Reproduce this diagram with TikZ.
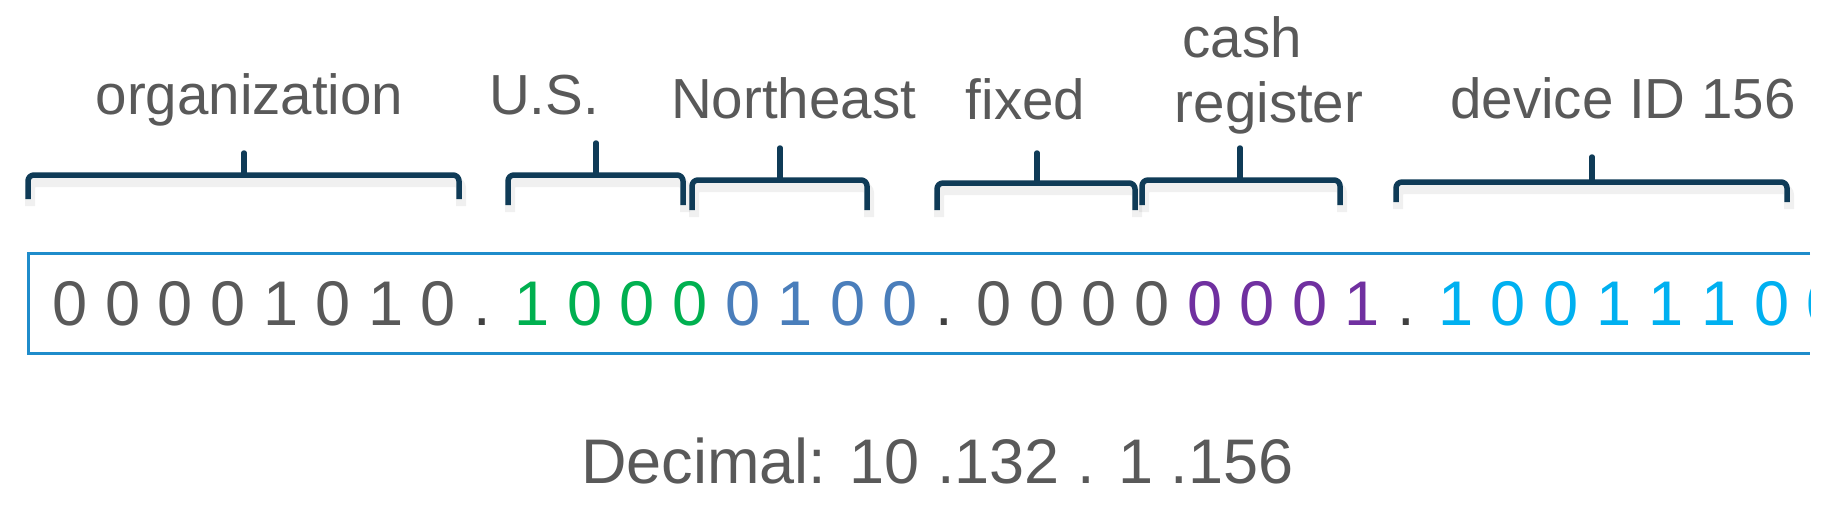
\documentclass[tikz,border=0pt]{standalone}
\usepackage{fontspec}
\setmainfont{Liberation Sans}
\definecolor{txtgray}{HTML}{595959}
\definecolor{dotgray}{HTML}{404040}
\definecolor{bracecol}{HTML}{0F3B57}
\definecolor{boxblue}{HTML}{1F8CCB}
\definecolor{grn}{HTML}{00B050}
\definecolor{sblue}{HTML}{4A7EBB}
\definecolor{purp}{HTML}{7030A0}
\definecolor{cyn}{HTML}{00B0F0}
\tikzset{
  bracestyle/.style={draw=bracecol, line width=5.5pt, rounded corners=6pt, line join=round},
  braceshadow/.style={draw=black, opacity=0.06, line width=10pt, rounded corners=6pt, shift={(2,7)}},
  tipstyle/.style={draw=bracecol, line width=5.5pt, line cap=round},
  lbl/.style={text=txtgray, font=\fontsize{56.5}{65}\selectfont, inner sep=0pt, anchor=base},
  bitrow/.style={text=txtgray, font=\fontsize{63.1}{76}\selectfont, inner sep=0pt, anchor=base west},
  boxline/.style={draw=boxblue, line width=3pt}
}
% #1 left x, #2 right x, #3 bar y, #4 end y, #5 tip x, #6 tip top y
\newcommand\mybrace[6]{%
  \draw[braceshadow] (#1,#4) -- (#1,#3) -- (#2,#3) -- (#2,#4);
  \draw[bracestyle] (#1,#4) -- (#1,#3) -- (#2,#3) -- (#2,#4);
  \draw[tipstyle] (#5,#3) -- (#5,#6);
}
\begin{document}
\begin{tikzpicture}[x=1pt,y=-1pt]
\useasboundingbox[fill=white] (0,0) rectangle (1822,524);

% labels
\node[lbl] (org) at (249.5,115) {organization};
\node[lbl] (us) at (544,115) {U.S.};
\node[lbl] (ne) at (793.5,118) {Northeast};
\node[lbl] (fixed) at (1025.5,120) {fixed};
\node[lbl] (cash) at (1242,58) {cash};
\node[lbl] (register) at (1269,123) {register};
\node[lbl] (device) at (1623,118) {device ID 156};

% braces
\mybrace{28}{459}{175}{199}{244}{153}
\mybrace{508}{683}{175}{205}{596}{143}
\mybrace{692}{867}{180}{210}{780}{148}
\mybrace{937}{1135}{183}{210}{1037}{153}
\mybrace{1142}{1340}{180}{205}{1240}{148}
\mybrace{1396}{1787}{182}{202}{1592}{157}

% binary box (open at the cropped right side)
\coordinate (boxTR) at (1810,253);
\coordinate (boxTL) at (28,253);
\coordinate (boxBL) at (28,353);
\coordinate (boxBR) at (1810,353);
\draw[boxline] (boxTR) -- (boxTL) -- (boxBL) -- (boxBR);

\begin{scope}
\clip (0,0) rectangle (1810,524);
\node[bitrow] (bits) at (52.5,325) {%
{\color{txtgray}0 0 0 0 1 0 1 0} {\color{dotgray}.} %
{\color{grn}1 0 0 0} {\color{sblue}0 1 0 0} {\color{dotgray}.} %
{\color{txtgray}0 0 0 0} {\color{purp}0 0 0 1} {\color{dotgray}.} %
{\color{cyn}1 0 0 1 1 1 0 0}};
\end{scope}

% decimal line
\node[bitrow, font=\fontsize{63}{76}\selectfont] (dec) at (581,483) {Decimal: 10 .132 . 1 .156};
\end{tikzpicture}
\end{document}
